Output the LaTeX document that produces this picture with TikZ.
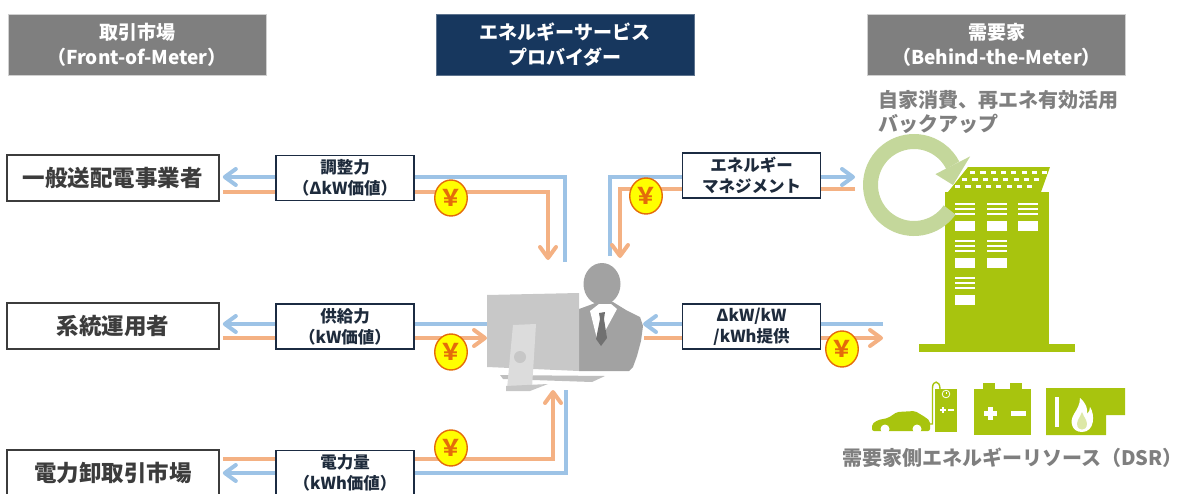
\documentclass[tikz,border=0pt]{standalone}
\usepackage{fontspec}
\setmainfont{Noto Sans CJK JP}
\usetikzlibrary{arrows.meta,backgrounds,shapes.geometric,calc}

\definecolor{navy}{HTML}{17375E}
\definecolor{navyline}{HTML}{1B2B42}
\definecolor{hdrgray}{HTML}{7F7F7F}
\definecolor{hdredge}{HTML}{D0D0D0}
\definecolor{flowblue}{HTML}{9DC3E6}
\definecolor{floworange}{HTML}{F4B183}
\definecolor{coinfill}{HTML}{FFFF00}
\definecolor{coinedge}{HTML}{E46C0A}
\definecolor{leaf}{HTML}{A8C40E}
\definecolor{leafpale}{HTML}{C4D79B}
\definecolor{leafdrop}{HTML}{DDE8A6}
\definecolor{notegray}{HTML}{7F7F7F}
\definecolor{boxtext}{HTML}{3C3C3C}
\definecolor{labeltext}{HTML}{1E2B3C}
\definecolor{screen}{HTML}{C8C8C8}
\definecolor{standgray}{HTML}{DCDCDC}
\definecolor{suit}{HTML}{A2A2A2}

\tikzset{
  header/.style={draw=hdredge, line width=0.8pt, minimum width=258pt, minimum height=61pt,
    inner sep=0pt, align=center, text=white, font=\bfseries\fontsize{19}{25}\selectfont},
  party/.style={draw=boxtext, line width=1.6pt, fill=white, minimum width=212pt, minimum height=46pt,
    inner sep=0pt, text=boxtext, font=\bfseries\fontsize{22.5}{26}\selectfont},
  flowlabel/.style={draw=navyline, line width=1.6pt, fill=white, minimum width=138pt, minimum height=45pt,
    inner sep=0pt, align=center, text=labeltext, font=\bfseries\fontsize{16.5}{21}\selectfont},
  power/.style={draw=flowblue, line width=4pt},
  money/.style={draw=floworange, line width=4pt},
  barb/.style={-{Straight Barb[length=11pt,width=16pt,round]}},
  coin/.style={ellipse, draw=coinedge, line width=1.4pt, fill=coinfill, minimum width=31pt,
    minimum height=36pt, inner sep=0pt, text=coinedge, font=\bfseries\fontsize{23}{23}\selectfont},
  note/.style={text=notegray, font=\bfseries\fontsize{20}{24}\selectfont, inner sep=0pt, anchor=west},
  pane/.style={fill=white, draw=none},
}

\begin{document}
\begin{tikzpicture}[x=1pt,y=-1pt]
\useasboundingbox (0,0) rectangle (1184,493);

% ---- column headings ----
\node[header, fill=hdrgray] (hdrMarket) at (137,44.5) {取引市場\\（Front-of-Meter）};
\node[header, fill=navy, draw=navy!70] (hdrEsp) at (565,44.5) {エネルギーサービス\\プロバイダー};
\node[header, fill=hdrgray] (hdrCustomer) at (996.5,44.5) {需要家\\（Behind-the-Meter）};

% ---- market side players ----
\node[party] (tso) at (113,178) {一般送配電事業者};
\node[party] (sysop) at (113,326) {系統運用者};
\node[party] (jepx) at (113,473) {電力卸取引市場};

% ---- traded values ----
\node[flowlabel] (lblAdj) at (345,178) {調整力\\（ΔkW価値）};
\node[flowlabel] (lblSup) at (345,326.5) {供給力\\（kW価値）};
\node[flowlabel] (lblKwh) at (345,473) {電力量\\（kWh価値）};
\node[flowlabel] (lblEms) at (751.5,175.5) {エネルギー\\マネジメント};
\node[flowlabel] (lblDr) at (751.5,326.5) {ΔkW/kW\\/kWh提供};

% ---- free ends of the flows at the provider and the customer ----
\coordinate (pcN1) at (565,262);
\coordinate (pcN2) at (548,260);
\coordinate (pcW1) at (487,324);
\coordinate (pcW2) at (487,338);
\coordinate (pcS1) at (566,390);
\coordinate (pcS2) at (553,390);
\coordinate (pcN3) at (610,256);
\coordinate (pcN4) at (620,258);
\coordinate (pcE1) at (643,324);
\coordinate (pcE2) at (644,338);
\coordinate (ringIn) at (855,177);
\coordinate (ringOut) at (855,189);
\coordinate (bldgB) at (883,324);
\coordinate (bldgO) at (883,338);
\coordinate (loopC) at (914,185);

% ---- power (blue) and money (orange) flows ----
\begin{scope}[on background layer]
  \draw[power,barb] (pcN1) |- ([xshift=3pt,yshift=1pt]tso.east);
  \draw[money,barb] ([xshift=3pt,yshift=-13.5pt]tso.east) -| (pcN2);
  \draw[power,barb] (pcW1) -- ([xshift=3pt,yshift=2pt]sysop.east);
  \draw[money,barb] ([xshift=3pt,yshift=-12pt]sysop.east) -- (pcW2);
  \draw[money,barb] ([xshift=3pt,yshift=14pt]jepx.east) -| (pcS2);
  \draw[power,barb] (pcS1) |- ([xshift=3pt]jepx.east);
  \draw[power,barb] (pcN3) |- (ringIn);
  \draw[money,barb] (ringOut) -| (pcN4);
  \draw[power,barb] (bldgB) -- (pcE1);
  \draw[money,barb] (pcE2) -- (bldgO);
\end{scope}

% ---- payments ----
\node[coin] (coinAdj) at (451,198) {￥};
\node[coin] (coinSup) at (451,352) {￥};
\node[coin] (coinKwh) at (451,448) {￥};
\node[coin] (coinEms) at (646,196) {￥};
\node[coin] (coinDr) at (842,349) {￥};

% ---- provider: operator at a computer ----
\fill[suit] (602,284) ellipse[x radius=18.5, y radius=21];
\fill[suit] (579,309) -- (590,305) -- (600,301) -- (613,302) -- (626,310) -- (640,317)
  -- (643,326) -- (641,341) -- (637,356) -- (633,367) -- (629,371) -- (579,371) -- cycle;
\fill[white] (590,311) -- (599,304) -- (611,304) -- (617,309) -- (604,333) -- (597,339) -- cycle;
\fill[suit!70!black] (599,313) -- (605,312) -- (604,319) -- (607,338) -- (601,346) -- (596,339) -- (600,319) -- cycle;
\fill[screen] (487,295) -- (579,293) -- (579,371) -- (487,367) -- cycle;
\fill[black!25] (500,375) -- (605,376) -- (592,382) -- (503,379) -- cycle;
\fill[standgray] (513,325) -- (536,324) -- (532,388) -- (507,389) -- cycle;
\fill[standgray!90!black] (506,386) -- (548,384) -- (530,391) -- (506,391) -- cycle;
\fill[black!22] (520,357) circle[radius=6];

% ---- customer: building with rooftop solar ----
\fill[leaf] (945,192) rectangle (1049,345);
\fill[leaf] (919,344) rectangle (1075,352);
\fill[leaf] (948,192) -- (968,167) -- (1050,167) -- (1041,192) -- cycle;
\foreach \row/\xa in {172.5/970, 179.5/962, 186.5/955}{
  \foreach \k in {0,...,7}{
    \fill[white] ({\xa+\k*10.3},{\row-1.3}) rectangle ++(5.2,2.6);
  }
}
\foreach \cx/\rows in {955/3, 987/2, 1018/1}{
  \foreach \r in {1,...,\rows}{
    \pgfmathsetmacro{\gy}{204+(\r-1)*37}
    \foreach \ly in {0,5,10}{
      \fill[pane] (\cx,\gy+\ly-0.7) rectangle ++(20,1.5);
    }
    \fill[pane] (\cx,\gy+16.5) rectangle ++(20,10.2);
  }
}

% ---- self-consumption loop ----
\draw[leafpale, line width=15pt] (loopC) ++(35:43.5) arc[start angle=35, end angle=333, radius=43.5];
\fill[leafpale] ($(loopC)+(333:24)$) -- ($(loopC)+(333:63)$) -- ($(loopC)+(0:39)$) -- cycle;

\node[note] (noteSelf) at (878,100) {自家消費、再エネ有効活用};
\node[note] (noteBackup) at (878,124) {バックアップ};

% ---- demand-side resources ----
% electric vehicle and charger
\fill[leaf, rounded corners=2pt] (872,431) -- (872,424) -- (878,420) -- (888,418) -- (897,412)
  -- (915,411) -- (925,417) -- (930,421) -- (930,431) -- cycle;
\fill[white] (885,429) circle[radius=4.5];
\fill[white] (917,429) circle[radius=4.5];
\draw[leaf, line width=1.4pt] (930,424) -- (932.5,424) -- (932.5,388)
  .. controls (932.5,380) and (940,380) .. (940,389);
\fill[leaf] (935,389) rectangle (957,432);
\draw[white, line width=0.8pt] (946,394) circle[radius=3.8];
\draw[white, line width=0.8pt] (946,394) -- (946,391.5);
\fill[white] (940,409) rectangle (946,411);
\fill[white] (942,407) rectangle (944,413);
\fill[white] (947.5,409) rectangle (954,411);
% storage battery
\fill[leaf] (974,389) rectangle (1031,435);
\fill[leaf] (983,383) rectangle (995,390);
\fill[leaf] (1010,383) rectangle (1022,390);
\fill[white] (983.5,410.5) rectangle (996.5,415.5);
\fill[white] (987.5,406.5) rectangle (992.5,419.5);
\fill[white] (1011,410.5) rectangle (1026,415.5);
% fuel cell / generator
\fill[leaf] (1046,388) -- (1125,388) -- (1125,415) -- (1106,415) -- (1106,435) -- (1046,435) -- cycle;
\fill[white] (1055,397) rectangle (1058.5,427);
\fill[white] (1082,432) .. controls (1072,432) and (1069,422) .. (1074,414)
  .. controls (1077,409) and (1080,405) .. (1080,398)
  .. controls (1086,403) and (1088,409) .. (1087,414)
  .. controls (1089,412) and (1090,410) .. (1090,407)
  .. controls (1095,414) and (1095,432) .. (1082,432) -- cycle;
\fill[leafdrop] (1082,429.5) .. controls (1077,429.5) and (1076,424) .. (1078,420)
  .. controls (1079.5,417) and (1081,415) .. (1082,412)
  .. controls (1083,415) and (1084.5,417) .. (1086,420)
  .. controls (1088,424) and (1087,429.5) .. (1082,429.5) -- cycle;

\node[note, anchor=east] (noteDsr) at (1183,458) {需要家側エネルギーリソース（DSR）};
\end{tikzpicture}
\end{document}
